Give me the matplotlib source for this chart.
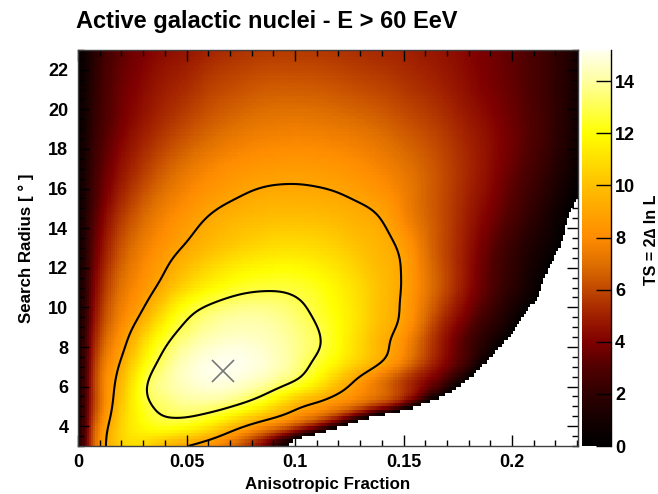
import numpy as np
import matplotlib
matplotlib.use("Agg")
import matplotlib.pyplot as plt
import matplotlib.tri as mtri
from matplotlib.colors import LinearSegmentedColormap, Normalize
from matplotlib.ticker import MultipleLocator

plt.rcParams['font.family'] = ['Liberation Sans', 'DejaVu Sans']
plt.rcParams['font.weight'] = 'bold'

# ---------------- data ----------------
frac = [0, .005, .01, .015, .02, .03, .04, .05, .06, .07, .08, .09, .10,
        .11, .12, .13, .14, .15, .16, .17, .18, .19, .20, .21, .22, .23]
radius = [3, 4, 5, 6, 7, 8, 9, 10, 11, 12, 13, 14, 15, 16, 17, 19, 21, 23]

ts_r03 = [0, 5.0, 8.2, 9.7, 10.5, 10.6, 9.2, 8.5, 7.8, 6.6, 4.7, 1.6, -3.5, -9, -14.5, -20, -25.5, -31, -36.5, -42, -47.5, -53, -58.5, -64, -69.5, -75]
ts_r04 = [0, 4.7, 7.8, 9.4, 10.6, 11.9, 12.4, 12.1, 11.3, 10.0, 8.6, 7.5, 6.2, 4.4, 1.2, -3.5, -9, -14.5, -20, -25.5, -31, -36.5, -42, -47.5, -53, -58.5]
ts_r05 = [0, 4.3, 7.0, 8.8, 10.2, 12.4, 13.3, 13.7, 13.6, 13.1, 12.2, 10.9, 9.4, 8.5, 7.7, 6.7, 5.3, 3.1, -1.0, -6, -11, -16, -21, -26, -31, -36]
ts_r06 = [0, 4.2, 7.0, 8.6, 9.8, 12.7, 13.9, 14.5, 14.8, 14.7, 14.2, 13.4, 12.4, 11.2, 9.6, 8.2, 6.9, 5.5, 3.9, 1.9, -1.5, -6.5, -11.5, -16.5, -21.5, -26.5]
ts_r07 = [0, 4.0, 6.8, 8.2, 9.3, 11.9, 13.6, 14.6, 15.1, 15.2, 15.0, 14.5, 13.7, 12.5, 11.3, 10.0, 8.7, 7.1, 5.4, 3.8, 2.0, -1.5, -6, -10.5, -15, -19.5]
ts_r08 = [0, 3.8, 6.2, 7.6, 8.6, 11.0, 12.9, 14.0, 14.6, 14.9, 14.8, 14.4, 13.8, 13.1, 12.0, 10.7, 9.4, 8.0, 6.1, 4.3, 2.6, 1.0, -1.5, -5, -9, -13]
ts_r09 = [0, 3.5, 5.7, 7.0, 8.0, 9.9, 11.9, 13.2, 13.9, 14.25, 14.3, 14.1, 13.6, 12.95, 12.0, 10.9, 9.7, 8.6, 6.6, 4.7, 3.2, 1.8, 0.5, -2.5, -6, -9.5]
ts_r10 = [0, 3.2, 5.3, 6.6, 7.5, 8.9, 10.7, 12.3, 13.1, 13.55, 13.7, 13.6, 13.2, 12.6, 11.8, 10.9, 9.8, 8.8, 7.1, 5.4, 3.9, 2.5, 1.2, -0.3, -3, -6]
ts_r11 = [0, 3.0, 4.9, 6.2, 7.1, 8.3, 9.5, 10.8, 11.7, 12.3, 12.65, 12.75, 12.65, 12.3, 11.6, 10.8, 9.9, 8.9, 7.4, 5.9, 4.4, 3.0, 1.8, 0.6, -1.3, -4]
ts_r12 = [0, 2.8, 4.55, 5.8, 6.7, 7.9, 8.9, 9.9, 10.7, 11.3, 11.7, 11.9, 11.9, 11.6, 11.1, 10.4, 9.7, 8.9, 7.3, 5.9, 4.5, 3.1, 2.0, 0.9, -0.5, -3]
ts_r13 = [0, 2.6, 4.2, 5.4, 6.3, 7.5, 8.4, 9.15, 9.8, 10.3, 10.7, 10.95, 11.0, 10.85, 10.5, 10.0, 9.5, 8.7, 7.1, 5.8, 4.6, 3.3, 2.2, 1.2, 0.3, -1.5]
ts_r14 = [0, 2.4, 3.85, 5.0, 5.85, 7.05, 7.95, 8.7, 9.3, 9.75, 10.05, 10.25, 10.3, 10.2, 9.95, 9.55, 9.2, 8.1, 6.9, 5.85, 4.75, 3.65, 2.6, 1.6, 0.6, -0.8]
ts_r15 = [0, 2.2, 3.5, 4.6, 5.4, 6.6, 7.5, 8.2, 8.8, 9.2, 9.45, 9.6, 9.6, 9.55, 9.4, 9.15, 8.75, 7.7, 6.7, 5.85, 4.9, 3.95, 3.0, 2.0, 0.9, -0.3]
ts_r16 = [0, 2.05, 3.25, 4.2, 4.95, 6.1, 7.0, 7.7, 8.25, 8.65, 8.95, 9.1, 9.12, 9.05, 8.9, 8.6, 8.15, 7.5, 6.7, 5.9, 5.05, 4.2, 3.2, 2.3, 1.3, 0.1]
ts_r17 = [0, 1.9, 3.0, 3.85, 4.55, 5.6, 6.5, 7.2, 7.75, 8.15, 8.4, 8.55, 8.6, 8.55, 8.4, 8.1, 7.7, 7.2, 6.6, 5.9, 5.15, 4.35, 3.45, 2.6, 1.6, 0.5]
ts_r19 = [0, 1.6, 2.6, 3.3, 3.9, 4.8, 5.5, 6.1, 6.6, 7.0, 7.3, 7.45, 7.5, 7.45, 7.3, 7.1, 6.8, 6.4, 6.0, 5.5, 4.9, 4.3, 3.6, 2.9, 2.0, 0.8]
ts_r21 = [0, 1.4, 2.4, 3.1, 3.6, 4.3, 4.9, 5.3, 5.8, 6.1, 6.35, 6.5, 6.5, 6.45, 6.3, 6.1, 5.9, 5.6, 5.3, 4.9, 4.4, 3.9, 3.4, 2.8, 2.0, 0.9]
ts_r23 = [0, 1.2, 2.2, 2.9, 3.3, 3.9, 4.3, 4.6, 5.0, 5.3, 5.5, 5.6, 5.6, 5.55, 5.45, 5.3, 5.15, 5.0, 4.75, 4.5, 4.15, 3.75, 3.3, 2.8, 2.1, 1.0]

best_fit = (0.0668, 6.79)
contour_levels = [9.0, 12.9]
ts_max = 15.2

x_ticks = [0, 0.05, 0.1, 0.15, 0.2]
x_ticklabels = ['0', '0.05', '0.1', '0.15', '0.2']
y_ticks = [4, 6, 8, 10, 12, 14, 16, 18, 20, 22]
cb_ticks = [0, 2, 4, 6, 8, 10, 12, 14]

# palette nodes (value, colour)
pal_vals = [0, 1, 2, 3, 4, 5, 6, 7, 8, 9, 10, 11, 12, 13, 14, 15.2]
pal_cols = ['#000000', '#150000', '#300000', '#500000', '#800000', '#a02000',
            '#c04800', '#e07000', '#ff8c00', '#ffa500', '#ffc000', '#ffe000',
            '#ffff00', '#ffff50', '#ffffa0', '#fffff0']

# ---------------- field ----------------
ts = np.array([ts_r03, ts_r04, ts_r05, ts_r06, ts_r07, ts_r08, ts_r09, ts_r10,
               ts_r11, ts_r12, ts_r13, ts_r14, ts_r15, ts_r16, ts_r17,
               ts_r19, ts_r21, ts_r23])
FX, RY = np.meshgrid(np.array(frac), np.array(radius))
yscale = 0.01
tri = mtri.Triangulation(FX.ravel(), RY.ravel() * yscale)
interp = mtri.CubicTriInterpolator(tri, ts.ravel(), kind='min_E')


def gauss_smooth(a, sx, sy):
    """separable gaussian blur (in samples) to remove triangulation ripples"""
    out = np.asarray(a, dtype=float)
    for axis, s in ((1, sx), (0, sy)):
        r = int(np.ceil(3 * s))
        k = np.exp(-0.5 * (np.arange(-r, r + 1) / s) ** 2)
        k /= k.sum()
        pad = [(0, 0), (0, 0)]
        pad[axis] = (r, r)
        p = np.pad(out, pad, mode='edge')
        out = np.apply_along_axis(lambda v: np.convolve(v, k, mode='valid'), axis, p)
    return out


cmap = LinearSegmentedColormap.from_list(
    'dbr', [(v / ts_max, c) for v, c in zip(pal_vals, pal_cols)], N=512)
norm = Normalize(vmin=0, vmax=ts_max)

W, H = 658, 494
fig = plt.figure(figsize=(W / 100, H / 100), dpi=100)
ax = fig.add_axes([78 / W, 1 - 446 / H, 500 / W, 396 / H])
cax = fig.add_axes([582 / W, 1 - 446 / H, 29 / W, 396 / H])

xmax = 0.2304
nx, ny = 230, 120
xe = np.linspace(0, xmax, nx + 1)
ye = np.linspace(3, 23, ny + 1)
xc = np.clip(0.5 * (xe[:-1] + xe[1:]), 0, 0.23)
yc = 0.5 * (ye[:-1] + ye[1:])
XC, YC = np.meshgrid(xc, yc)
Z = np.ma.filled(interp(XC, YC * yscale), np.nan)
Z = gauss_smooth(Z, 2.0, 1.5)
Z = np.ma.masked_where(~np.isfinite(Z) | (Z < 0), Z)
ax.pcolormesh(xe, ye, Z, cmap=cmap, norm=norm, shading='flat')

xs = np.linspace(0, 0.23, 400)
ys = np.linspace(3, 23, 400)
XS, YS = np.meshgrid(xs, ys)
ZS = np.ma.filled(interp(XS, YS * yscale), np.nan)
ZS = gauss_smooth(ZS, 5.0, 7.0)
ax.contour(XS, YS, ZS, levels=contour_levels, colors='black', linewidths=1.5)

ax.plot(best_fit[0], best_fit[1], marker='x', ms=16.5, mew=1.2,
        color='#787878', linestyle='none')

ax.set_xlim(0, xmax)
ax.set_ylim(3, 23)
ax.set_xticks(x_ticks)
ax.set_xticklabels(x_ticklabels)
ax.set_yticks(y_ticks)
ax.xaxis.set_minor_locator(MultipleLocator(0.01))
ax.yaxis.set_minor_locator(MultipleLocator(0.5))
ax.tick_params(which='both', direction='in', top=True, right=True, width=1,
               labelsize=13, color='black')
ax.tick_params(which='major', length=8)
ax.tick_params(which='minor', length=4)
ax.tick_params(axis='x', pad=6)
ax.tick_params(axis='y', pad=7)
for lab in ax.get_xticklabels() + ax.get_yticklabels():
    lab.set_fontweight('bold')
for sp in ax.spines.values():
    sp.set_linewidth(1)
    sp.set_color('#404040')

ax.set_xlabel('Anisotropic Fraction', fontsize=12.2, fontweight='bold', labelpad=4)
ax.set_ylabel('Search Radius [ ° ]', fontsize=12.2, fontweight='bold', labelpad=10)

fig.text(76 / W, 1 - 28 / H, 'Active galactic nuclei - E > 60 EeV',
         fontsize=17, fontweight='bold', ha='left', va='baseline')

# colour bar
grad = np.linspace(0, ts_max, 512).reshape(-1, 1)
cax.imshow(grad, aspect='auto', origin='lower', cmap=cmap, norm=norm,
           extent=(0, 1, 0, ts_max))
cax.set_xlim(0, 1)
cax.set_ylim(0, ts_max)
for sp in ['left', 'top', 'bottom']:
    cax.spines[sp].set_visible(False)
cax.spines['right'].set_linewidth(1)
cax.set_xticks([])
cax.yaxis.tick_right()
cax.set_yticks(cb_ticks)
cax.tick_params(axis='y', direction='in', length=11, width=1, labelsize=13, pad=3)
for lab in cax.get_yticklabels():
    lab.set_fontweight('bold')

fig.text(651 / W, 1 - 240 / H, 'TS = 2\u2206 ln L', rotation=90, fontsize=11.5,
         fontweight='bold', ha='center', va='center')

fig.savefig('out.png', dpi=100)
